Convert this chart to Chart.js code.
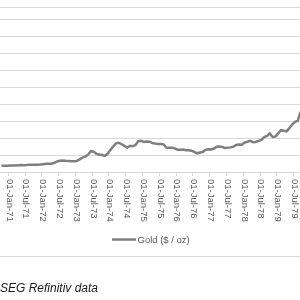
<!DOCTYPE html>
<html>
<head>
<meta charset="utf-8">
<script src="https://cdn.jsdelivr.net/npm/chart.js@4/dist/chart.umd.min.js"></script>
<style>
  html, body { margin: 0; padding: 0; background: #fff; }
  #caja { width: 300px; height: 300px; position: relative; overflow: hidden; }
</style>
</head>
<body>
<div id="caja"><canvas id="miGrafico" width="300" height="300"></canvas></div>
<script>
// gold, monthly ($ / oz), first value = Oct 1970
const primerMes = 9; // months after Jan 1970
const oro = [
    37.5, 37.4, 37.4,
    37.9, 38.7, 38.9, 39.0, 40.5, 40.1, 41.0, 42.7, 42.0, 42.5, 42.9, 43.5,
    45.8, 48.3, 48.3, 49.0, 54.6, 62.1, 65.7, 67.0, 65.5, 64.9, 62.9, 63.9,
    65.1, 74.2, 84.4, 90.5, 102.0, 122.5, 120.2, 106.8, 103.0, 100.1, 94.8, 106.7,
    129.2, 150.2, 168.4, 172.2, 163.3, 154.1, 142.9, 154.6, 151.2, 158.8, 181.7, 183.8,
    176.3, 179.6, 178.2, 170.0, 167.0, 164.2, 165.2, 162.5, 144.0, 142.8, 142.8, 139.3,
    131.5, 130.9, 132.6, 128.2, 128.1, 125.6, 118.0, 109.9, 114.4, 117.1, 130.3, 133.6,
    132.3, 136.3, 148.3, 149.3, 146.6, 140.8, 143.4, 144.8, 149.2, 158.9, 162.1, 160.5,
    173.2, 178.2, 183.7, 175.3, 176.3, 183.1, 188.8, 206.1, 212.3, 227.2, 206.1, 207.8,
    227.3, 245.7, 242.1, 239.2, 257.6, 279.1, 294.7, 300.8, 355.1, 391.7
];

const etiquetas = [
    '01-Jan-71', '01-Jul-71', '01-Jan-72', '01-Jul-72', '01-Jan-73', '01-Jul-73',
    '01-Jan-74', '01-Jul-74', '01-Jan-75', '01-Jul-75', '01-Jan-76', '01-Jul-76',
    '01-Jan-77', '01-Jul-77', '01-Jan-78', '01-Jul-78', '01-Jan-79', '01-Jul-79'
];
const mesesEtiqueta = [12, 18, 24, 30, 36, 42, 48, 54, 60, 66, 72, 78, 84, 90, 96, 102, 108, 114];

const nombreSerie = 'Gold ($ / oz)';
const fuente = 'SEG Refinitiv data';

const gris = '#7f7f7f';
const rejilla = '#d9d9d9';
const texto = '#595959';

const puntos = oro.map((v, i) => ({ x: primerMes + i + 0.5, y: v }));

// labels turned clockwise, legend, borders and source line
const extras = {
    id: 'extras',
    afterDraw(chart) {
        const ctx = chart.ctx;
        const xs = chart.scales.x;

        ctx.save();
        ctx.strokeStyle = rejilla;
        ctx.lineWidth = 1;
        ctx.beginPath();
        ctx.moveTo(0, 7.5); ctx.lineTo(300, 7.5);
        ctx.moveTo(0, 256.5); ctx.lineTo(300, 256.5);
        ctx.stroke();

        ctx.fillStyle = texto;
        ctx.font = '9.5px "Liberation Sans", Arial, sans-serif';
        ctx.textAlign = 'left';
        ctx.textBaseline = 'middle';
        etiquetas.forEach((t, i) => {
            const px = xs.getPixelForValue(mesesEtiqueta[i]);
            ctx.save();
            ctx.translate(px + 1, 179);
            ctx.rotate(Math.PI / 2);
            ctx.fillText(t, 0, 0);
            ctx.restore();
        });

        // legend
        ctx.strokeStyle = gris;
        ctx.lineWidth = 2.5;
        ctx.beginPath();
        ctx.moveTo(112, 239.5); ctx.lineTo(136, 239.5);
        ctx.stroke();
        ctx.fillText(nombreSerie, 137.5, 240);

        ctx.fillStyle = '#1a1a1a';
        ctx.font = 'italic 12px "Liberation Sans", Arial, sans-serif';
        ctx.textBaseline = 'alphabetic';
        ctx.fillText(fuente, 0, 292);
        ctx.restore();
    }
};

const ctx = document.getElementById('miGrafico').getContext('2d');
const miGrafico = new Chart(ctx, {
    type: 'line',
    data: {
        datasets: [{
            label: nombreSerie,
            data: puntos,
            borderColor: gris,
            borderWidth: 2.5,
            pointRadius: 0,
            tension: 0,
            fill: false
        }]
    },
    options: {
        responsive: false,
        animation: false,
        layout: { padding: { top: 19, bottom: 124, left: 0, right: 0 } },
        plugins: {
            legend: { display: false },
            tooltip: { enabled: false }
        },
        scales: {
            x: {
                type: 'linear',
                min: 9.03,
                max: 116.3,
                afterFit: (s) => { s.height = 4; },
                afterBuildTicks: (s) => { s.ticks = mesesEtiqueta.map(v => ({ value: v })); },
                ticks: { display: false },
                grid: { drawOnChartArea: false, drawTicks: true, tickLength: 4, color: rejilla },
                border: { color: rejilla }
            },
            y: {
                min: 0,
                max: 900,
                afterFit: (s) => { s.width = 0; },
                ticks: { display: false, stepSize: 100 },
                grid: { color: rejilla, drawTicks: false },
                border: { display: false }
            }
        }
    },
    plugins: [extras]
});
</script>
</body>
</html>
